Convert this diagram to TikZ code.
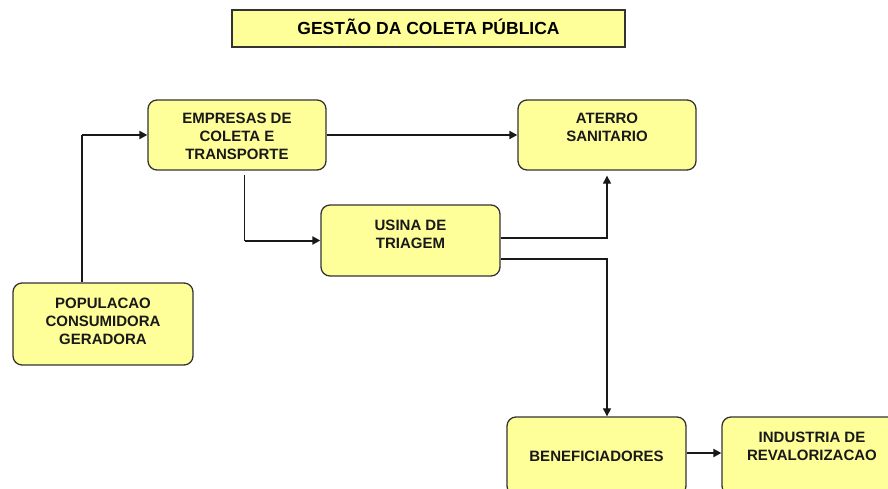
\documentclass[tikz,border=0pt]{standalone}
\usepackage{fontspec}
\setmainfont{Liberation Sans}
\usetikzlibrary{arrows.meta}
\definecolor{boxfill}{HTML}{FFFF99}
\definecolor{edge}{HTML}{333333}
\newcommand\bxt[4]{\parbox[c][#2pt][t]{#1pt}{\centering\vspace*{#3pt}\strut #4}}
\begin{document}
\begin{tikzpicture}[x=1pt,y=-1pt,
  box/.style={draw=edge, line width=1.3pt, fill=boxfill, rounded corners=9pt, inner sep=0pt,
    font=\bfseries\fontsize{15}{18}\selectfont, text=black!90},
  titlebox/.style={draw=edge, line width=1.3pt, fill=boxfill, inner sep=0pt,
    minimum width=393pt, minimum height=37pt, text height=12.5pt, text depth=0pt,
    font=\bfseries\fontsize{17.5}{20}\selectfont},
  thin/.style={line width=1.1pt, draw=black!90},
  heavy/.style={line width=2pt, draw=black!90},
  tip/.style={-{Triangle[length=8pt,width=8pt]}}
]
\useasboundingbox (0,0) rectangle (888,489);
\clip (0,0) rectangle (888,489);

\node[titlebox] (title) at (428.5,28.5) {GESTÃO DA COLETA PÚBLICA};

\node[box] (emp) at (237,135) {\bxt{178}{70}{10.8}{EMPRESAS DE\\COLETA E\\TRANSPORTE}};
\node[box] (ate) at (607,135) {\bxt{178}{70}{10.8}{ATERRO\\SANITARIO}};
\node[box] (usi) at (410.5,240.5) {\bxt{179}{71}{12.8}{USINA DE\\TRIAGEM}};
\node[box] (pop) at (103,324) {\bxt{180}{82}{12.8}{POPULACAO\\CONSUMIDORA\\GERADORA}};
\node[box] (ben) at (596.5,456) {\bxt{179}{78}{31.8}{BENEFICIADORES}};
\node[box] (ind) at (812,456) {\bxt{180}{78}{12.8}{INDUSTRIA DE\\REVALORIZACAO}};

% populacao -> empresas
\coordinate (c1) at (82,135);
\draw[thin] (pop.north -| c1) -- (c1);
\draw[heavy,tip] (c1) -- (emp.west);

% empresas -> aterro
\draw[heavy,tip] (emp.east) -- (ate.west);

% empresas -> usina
\coordinate (d1) at (244.5,175);
\coordinate (d2) at (244.5,240.5);
\draw[thin] (d1) -- (d2);
\draw[heavy,tip] (d2) -- (usi.west);

% usina -> aterro
\coordinate (u1) at (607,238);
\draw[thin,tip] (usi.east |- u1) -- (u1) -- ([yshift=-5pt]ate.south);

% usina -> beneficiadores
\coordinate (u2) at (607,259);
\draw[thin,tip] (usi.east |- u2) -- (u2) -- (ben.north -| u2);

% beneficiadores -> industria
\draw[heavy,tip] ([yshift=3pt]ben.east) -- ([yshift=3pt]ind.west);
\end{tikzpicture}
\end{document}
